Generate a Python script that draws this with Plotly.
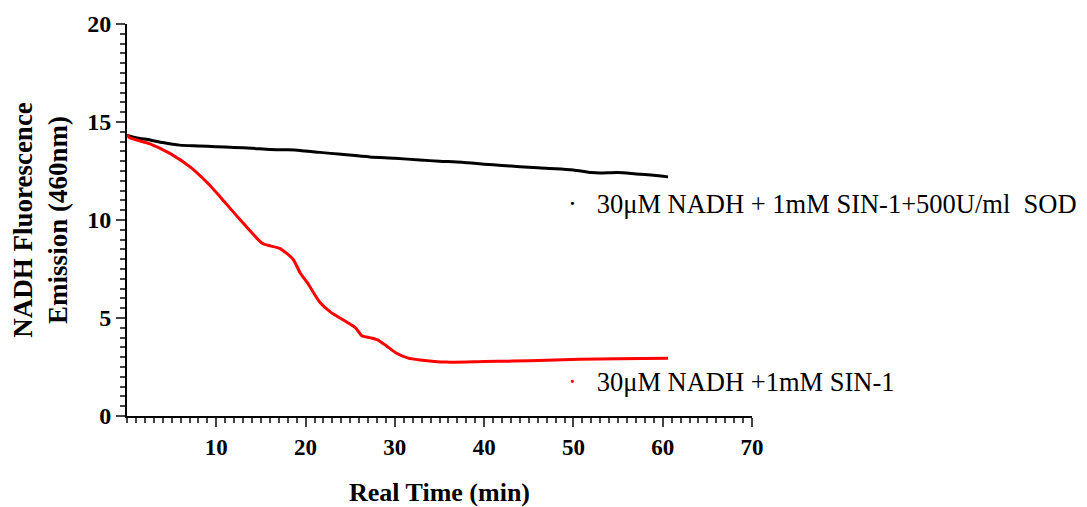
import plotly.graph_objects as go

# Time (min) and NADH fluorescence values
t_sod = [0, 1, 2.6, 4, 5.9, 8, 10, 12, 14, 16, 18, 19.4, 21.6, 24, 27.2, 30, 32.8, 35, 37.5, 40, 42, 44, 46, 48, 50, 52, 53, 55, 57, 59, 60.6]
y_sod = [14.32, 14.2, 14.08, 13.95, 13.82, 13.78, 13.74, 13.7, 13.66, 13.6, 13.58, 13.55, 13.45, 13.35, 13.22, 13.15, 13.06, 13.0, 12.95, 12.85, 12.78, 12.72, 12.66, 12.62, 12.55, 12.42, 12.4, 12.42, 12.35, 12.28, 12.2]

t_sin = [0, 0.3, 2.5, 4.8, 7.1, 9, 10.4, 12.7, 15.2, 17.1, 18.6, 19.4, 20.2, 21.6, 22.8, 24.6, 25.6, 26.3, 27.2, 28, 29, 30.2, 31.5, 32.8, 35.8, 40, 43.2, 47, 50.7, 55, 60.6]
y_sin = [14.35, 14.2, 13.9, 13.4, 12.7, 11.9, 11.2, 10.0, 8.8, 8.55, 8.0, 7.3, 6.8, 5.8, 5.3, 4.8, 4.5, 4.1, 4.0, 3.9, 3.6, 3.2, 2.95, 2.86, 2.75, 2.78, 2.8, 2.85, 2.9, 2.92, 2.95]

label_sod = "30\u03bcM NADH + 1mM SIN-1+500U/ml  SOD"
label_sin = "30\u03bcM NADH +1mM SIN-1"

x_ticks = [10, 20, 30, 40, 50, 60, 70]
y_ticks = [0, 5, 10, 15, 20]

SERIF = "Liberation Serif, Times New Roman, DejaVu Serif, serif"

fig = go.Figure()
fig.add_trace(go.Scatter(x=t_sod, y=y_sod, mode="lines", line=dict(color="black", width=3, shape="spline", smoothing=0.6),
                         name=label_sod, showlegend=False))
fig.add_trace(go.Scatter(x=t_sin, y=y_sin, mode="lines", line=dict(color="red", width=3, shape="spline", smoothing=0.6),
                         name=label_sin, showlegend=False))

fig.update_layout(
    width=1087, height=507,
    margin=dict(l=127, r=335, t=24, b=91),
    plot_bgcolor="white", paper_bgcolor="white",
    font=dict(family=SERIF, color="black"),
    xaxis=dict(range=[0, 70], tickvals=x_ticks, ticks="outside", ticklen=9, tickwidth=2, automargin=False,
               showline=True, linewidth=2, linecolor="black", showgrid=False, zeroline=False,
               tickfont=dict(family=SERIF, size=23, weight="bold"),
               minor=dict(dtick=1, ticks="outside", ticklen=5, tickwidth=1.5, showgrid=False),
               title=dict(text="<b>Real Time (min)</b>", font=dict(family=SERIF, size=26), standoff=24)),
    yaxis=dict(range=[0, 20], tickvals=y_ticks, ticks="outside", ticklen=9, tickwidth=2, automargin=False,
               showline=True, linewidth=2, linecolor="black", showgrid=False, zeroline=False,
               tickfont=dict(family=SERIF, size=24, weight="bold"),
               minor=dict(dtick=0.5, ticks="outside", ticklen=5, tickwidth=1.5, showgrid=False),
               title=dict(text="<b>NADH Fluorescence<br>Emission (460nm)</b>", font=dict(family=SERIF, size=27), standoff=12)),
)

fig.add_annotation(xref="paper", yref="paper", x=(566 - 127) / 625, y=(416 - 204) / 392,
                   xanchor="left", yanchor="middle", showarrow=False,
                   text="<span style='color:black'>\u00b7</span>&nbsp;&nbsp;&nbsp;" + label_sod,
                   font=dict(family=SERIF, size=26.5, color="black"))
fig.add_annotation(xref="paper", yref="paper", x=(566 - 127) / 625, y=(416 - 382) / 392,
                   xanchor="left", yanchor="middle", showarrow=False,
                   text="<span style='color:red'>\u00b7</span>&nbsp;&nbsp;&nbsp;" + label_sin,
                   font=dict(family=SERIF, size=26.5, color="black"))

fig.write_html("out.html")
